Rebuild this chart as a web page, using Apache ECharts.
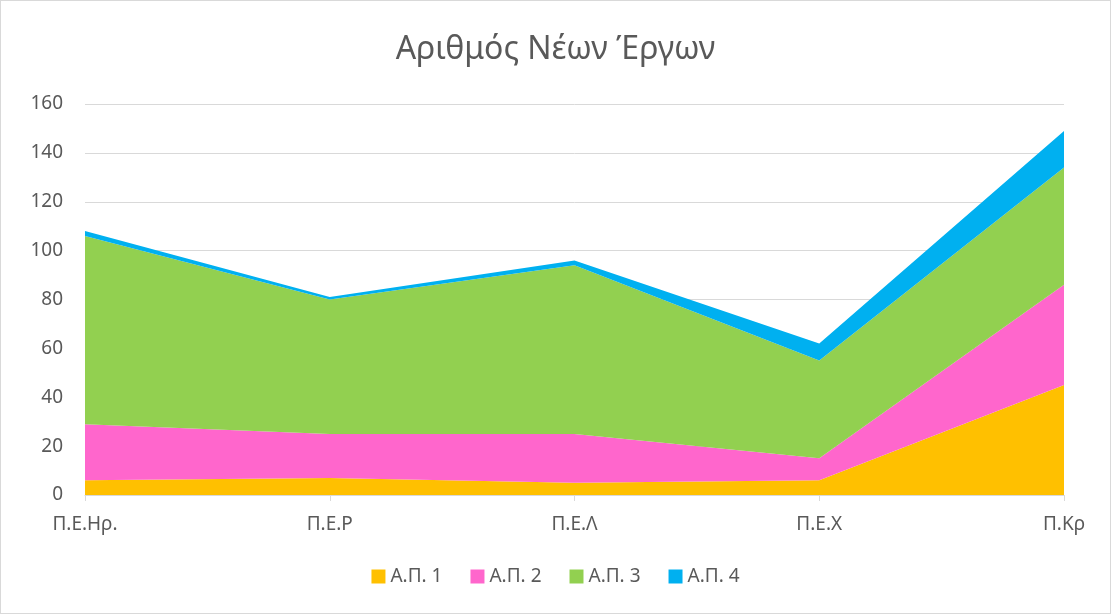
<!DOCTYPE html>
<html>
<head>
<meta charset="utf-8">
<script src="https://cdn.jsdelivr.net/npm/echarts@6/dist/echarts.min.js"></script>
<style>
  html, body { margin: 0; padding: 0; background: #fff; }
  #chart { width: 1109px; height: 612px; border: 1px solid #d9d9d9; }
</style>
</head>
<body>
<div id="chart"></div>
<script>
const categories = ['Π.Ε.Ηρ.', 'Π.Ε.Ρ', 'Π.Ε.Λ', 'Π.Ε.Χ', 'Π.Κρ']
const ap1 = [6, 7, 5, 6, 45]
const ap2 = [23, 18, 20, 9, 41]
const ap3 = [77, 55, 69, 40, 48]
const ap4 = [2, 1, 2, 7, 15]
const seriesNames = ['Α.Π. 1', 'Α.Π. 2', 'Α.Π. 3', 'Α.Π. 4']
const colors = ['#FFC000', '#FF66CC', '#92D050', '#00B0F0']

const font = 'Noto Sans'
const chart = echarts.init(document.getElementById('chart'))

const seriesData = [ap1, ap2, ap3, ap4].map((data, index) => {
  return {
    name: seriesNames[index],
    type: 'line',
    stack: 'total',
    showSymbol: false,
    symbol: 'none',
    lineStyle: { width: 0 },
    areaStyle: { color: colors[index], opacity: 1 },
    itemStyle: { color: colors[index] },
    data: data
  }
})

chart.setOption({
  animation: false,
  textStyle: { fontFamily: font },
  title: {
    text: 'Αριθμός Νέων Έργων',
    left: 'center',
    top: 28,
    textStyle: { color: '#595959', fontSize: 32, fontWeight: 'normal', fontFamily: font }
  },
  legend: {
    bottom: 22,
    left: 'center',
    icon: 'rect',
    itemWidth: 14,
    itemHeight: 14,
    itemGap: 28,
    textStyle: { color: '#595959', fontSize: 19, fontFamily: font },
    data: seriesNames
  },
  grid: {
    left: 84,
    right: 46,
    top: 103,
    bottom: 118
  },
  xAxis: {
    type: 'category',
    boundaryGap: false,
    data: categories,
    axisLine: { lineStyle: { color: '#d9d9d9' } },
    axisTick: { show: true, length: 6, lineStyle: { color: '#d9d9d9' } },
    axisLabel: { color: '#595959', fontSize: 19, margin: 20 },
    splitLine: { show: false }
  },
  yAxis: {
    type: 'value',
    min: 0,
    max: 160,
    interval: 20,
    axisLine: { show: false },
    axisTick: { show: false },
    axisLabel: { color: '#595959', fontSize: 19, margin: 22 },
    splitLine: { lineStyle: { color: '#d9d9d9' } }
  },
  series: seriesData
})
</script>
</body>
</html>
